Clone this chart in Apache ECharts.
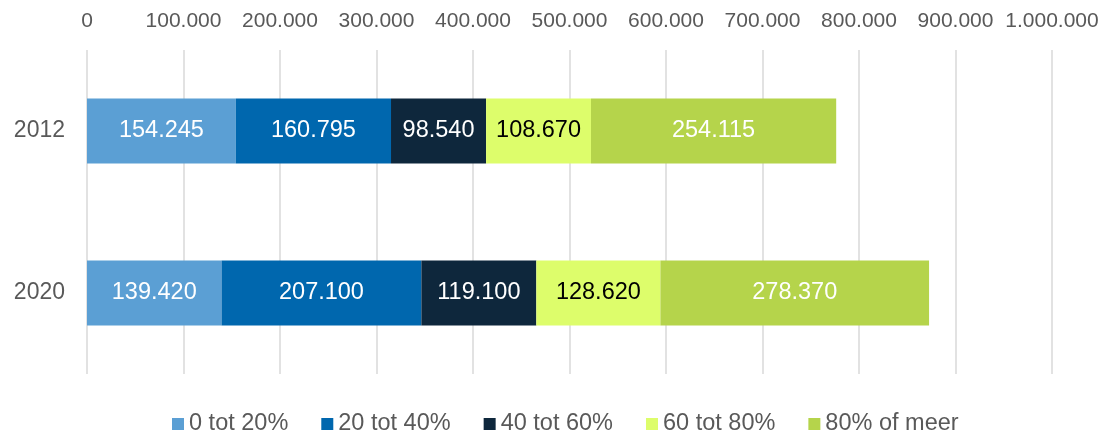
<!DOCTYPE html>
<html>
<head>
<meta charset="utf-8">
<script src="https://cdn.jsdelivr.net/npm/echarts@6/dist/echarts.min.js"></script>
<style>
  html, body { margin: 0; padding: 0; background: #fff; }
  #chart { width: 1102px; height: 434px; }
</style>
</head>
<body>
<div id="chart"></div>
<script>
// jaren
var years = ['2012', '2020'];
// klassen
var classes = ['0 tot 20%', '20 tot 40%', '40 tot 60%', '60 tot 80%', '80% of meer'];
// waarden per klasse, [2012, 2020]
var cls0_20 = [154245, 139420];
var cls20_40 = [160795, 207100];
var cls40_60 = [98540, 119100];
var cls60_80 = [108670, 128620];
var cls80plus = [254115, 278370];

var seriesData = [cls0_20, cls20_40, cls40_60, cls60_80, cls80plus];
var colors = ['#5b9fd4', '#0067ae', '#0e273c', '#ddfd6b', '#b5d44b'];
var labelColors = ['#fff', '#fff', '#fff', '#000', '#fff'];

function dots(v) {
    return String(v).replace(/\B(?=(\d{3})+(?!\d))/g, '.');
}

var font = 'Liberation Sans, Arial, sans-serif';

var myChart = echarts.init(document.getElementById('chart'));

myChart.setOption({
    color: colors,
    animation: false,
    textStyle: { fontFamily: font },
    grid: {
        left: 87,
        right: 50,
        top: 50,
        bottom: 60
    },
    legend: {
        data: classes,
        top: 407,
        left: 167,
        itemWidth: 12,
        itemHeight: 12,
        itemGap: 33,
        icon: 'rect',
        textStyle: { fontSize: 23.5, color: '#595959', fontFamily: font }
    },
    xAxis: {
        type: 'value',
        position: 'top',
        min: 0,
        max: 1000000,
        interval: 100000,
        axisLine: { show: false },
        axisTick: { show: false },
        axisLabel: {
            margin: 18,
            fontSize: 21,
            color: '#595959',
            fontFamily: font,
            formatter: function (v) { return dots(v); }
        },
        splitLine: { lineStyle: { color: '#d9d9d9', width: 1.5 } }
    },
    yAxis: {
        type: 'category',
        data: years,
        inverse: true,
        axisLine: { show: false },
        axisTick: { show: false },
        axisLabel: { margin: 22, fontSize: 23, color: '#595959', fontFamily: font }
    },
    series: seriesData.map(function (d, i) {
        return {
            name: classes[i],
            type: 'bar',
            stack: 'total',
            barWidth: 65,
            data: d,
            label: {
                show: true,
                position: 'inside',
                fontSize: 23.5,
                color: labelColors[i],
                fontFamily: font,
                formatter: function (p) { return dots(p.value); }
            }
        };
    })
});
</script>
</body>
</html>
